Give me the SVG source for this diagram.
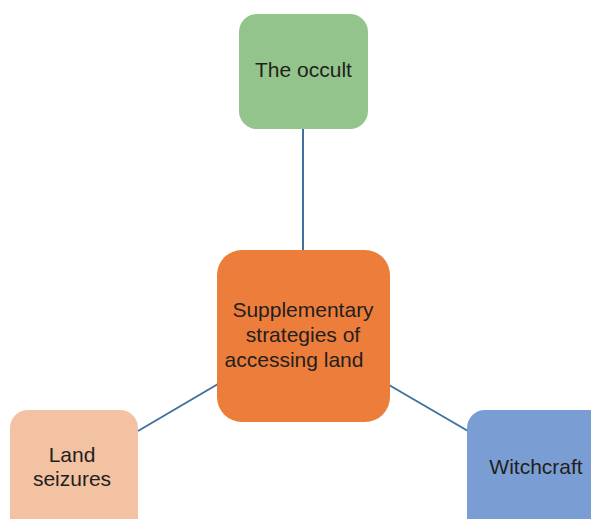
<svg xmlns="http://www.w3.org/2000/svg" width="591" height="519" viewBox="0 0 591 519">
<style>
.t{font-family:"Liberation Sans",Arial,sans-serif;font-size:21px;fill:#231f20;text-anchor:middle}
.c{stroke:#41729f;stroke-width:2;fill:none}
</style>
<rect width="591" height="519" fill="#fff"/>
<g id="connectors">
<line class="c" x1="303" y1="129" x2="303" y2="250"/>
<line class="c" x1="138" y1="431" x2="218" y2="384"/>
<line class="c" x1="389" y1="385" x2="468" y2="431"/>
</g>
<g id="occult">
<rect x="239" y="14" width="129" height="115" rx="18" fill="#93c48b"/>
<text class="t" x="303.5" y="76.5">The occult</text>
</g>
<g id="center">
<rect x="217" y="250" width="173" height="172" rx="25" fill="#ed7d3a"/>
<text class="t" x="303" y="316.5">Supplementary</text>
<text class="t" x="303" y="341.5">strategies of</text>
<text class="t" x="294" y="366.5">accessing land</text>
</g>
<g id="land">
<rect x="10" y="410" width="128" height="130" rx="18" fill="#f2c2a3"/>
<text class="t" x="72" y="462">Land</text>
<text class="t" x="72" y="486">seizures</text>
</g>
<g id="witchcraft">
<rect x="467" y="410" width="140" height="130" rx="18" fill="#7a9ed3"/>
<text class="t" x="536" y="474">Witchcraft</text>
</g>
</svg>
